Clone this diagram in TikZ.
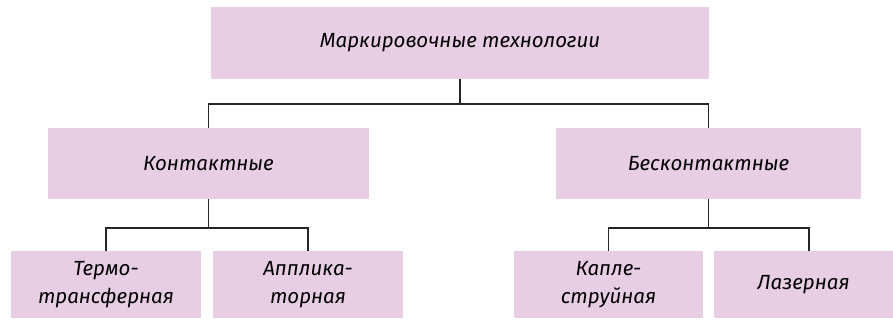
\documentclass[tikz,border=0pt]{standalone}
\usepackage{fontspec}
\setmainfont{Fira Sans}
\usetikzlibrary{positioning}
\definecolor{boxfill}{RGB}{232,206,228}
\tikzset{
  x=1pt, y=-1pt,
  box/.style={fill=boxfill, draw=none, inner sep=0pt, align=center,
    font=\fontsize{20.5}{28}\selectfont\itshape},
  link/.style={draw=black!85, line width=1.4pt}
}
\begin{document}
\begin{tikzpicture}
\useasboundingbox (0,0) rectangle (893,325);
% levels of the classification
\node[box, minimum width=498pt, minimum height=72pt] (top) at (460,43) {Маркировочные технологии};
\node[box, minimum width=321pt, minimum height=71pt] (kont) at (208.5,163.5) {Контактные};
\node[box, minimum width=305pt, minimum height=71pt] (besk) at (708.5,163.5) {Бесконтактные};
\node[box, minimum width=190pt, minimum height=67pt] (termo) at (106,284.5) {Термо-\\трансферная};
\node[box, minimum width=190pt, minimum height=67pt] (appl) at (308,284.5) {Аппликa-\\торная};
\node[box, minimum width=189pt, minimum height=67pt] (kaple) at (608.5,284.5) {Капле-\\струйная};
\node[box, minimum width=179pt, minimum height=67pt] (laser) at (803.5,284.5) {Лазерная};
% junction points of the tree
\coordinate (j0) at (460,104);
\coordinate (jk) at (208.5,228);
\coordinate (jb) at (708.5,228);
\coordinate (laserin) at (809,251);
% connectors
\draw[link] (top.south) -- (j0);
\draw[link] (kont.north) |- (j0) -| (besk.north);
\draw[link] (kont.south) -- (jk);
\draw[link] (termo.north) |- (jk) -| (appl.north);
\draw[link] (besk.south) -- (jb);
\draw[link] (kaple.north) |- (jb) -| (laserin);
\end{tikzpicture}
\end{document}
